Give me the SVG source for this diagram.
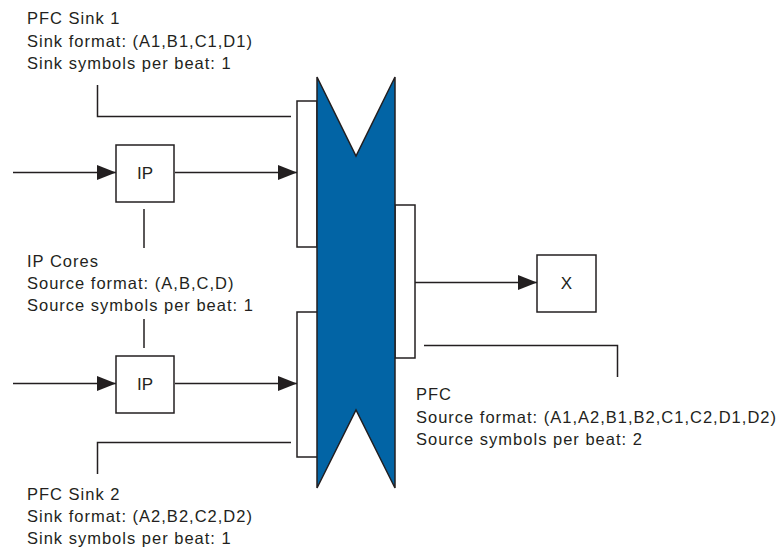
<svg xmlns="http://www.w3.org/2000/svg" width="783" height="550" viewBox="0 0 783 550">
  <style>
    .txt { font-family: "Liberation Sans", Arial, Helvetica, sans-serif; font-size: 16.5px; fill: #231f20; letter-spacing: 1px; }
    .lbl { font-family: "Liberation Sans", Arial, Helvetica, sans-serif; font-size: 17px; fill: #231f20; text-anchor: middle; }
    .box { fill: #ffffff; stroke: #231f20; stroke-width: 1.5; }
    .line { fill: none; stroke: #231f20; stroke-width: 1.5; }
    .pfc { fill: #0264a5; stroke: #231f20; stroke-width: 1.5; stroke-linejoin: miter; }
  </style>
  <defs>
    <marker id="arrow" markerUnits="userSpaceOnUse" markerWidth="20" markerHeight="16" refX="19" refY="7.5" orient="auto">
      <path d="M0,0 L19,7.5 L0,15 Z" fill="#231f20"/>
    </marker>
  </defs>
  <rect width="783" height="550" fill="#ffffff"/>

  <!-- PFC body with its two sink ports and source port -->
  <g id="pfc">
    <rect id="sink1-port" class="box" x="297" y="101" width="20" height="146"/>
    <rect id="sink2-port" class="box" x="297" y="312" width="21" height="145"/>
    <rect id="source-port" class="box" x="395" y="205" width="20" height="153"/>
    <polygon class="pfc" points="317,77 356,156 395,77 395,488 356,410 317,488"/>
  </g>

  <g id="ip1">
    <rect class="box" x="116" y="145" width="58" height="57"/>
    <text class="lbl" x="145" y="178.5">IP</text>
  </g>

  <g id="ip2">
    <rect class="box" x="116" y="356" width="58" height="57"/>
    <text class="lbl" x="145" y="389.5">IP</text>
  </g>

  <g id="x">
    <rect class="box" x="537" y="255" width="59" height="57"/>
    <text class="lbl" x="566.5" y="289">X</text>
  </g>

  <!-- connectors and callout leaders -->
  <g id="connectors">
    <line class="line" x1="13" y1="172.5" x2="116" y2="172.5" marker-end="url(#arrow)"/>
    <line class="line" x1="175" y1="172.5" x2="297" y2="172.5" marker-end="url(#arrow)"/>
    <line class="line" x1="13" y1="383.5" x2="116" y2="383.5" marker-end="url(#arrow)"/>
    <line class="line" x1="175" y1="383.5" x2="297" y2="383.5" marker-end="url(#arrow)"/>
    <line class="line" x1="415" y1="282.5" x2="537" y2="282.5" marker-end="url(#arrow)"/>

    <polyline class="line" points="97.5,85 97.5,116.5 291,116.5"/>
    <line class="line" x1="144" y1="209" x2="144" y2="248"/>
    <line class="line" x1="144" y1="319" x2="144" y2="348"/>
    <polyline class="line" points="291,442.5 97.5,442.5 97.5,474"/>
    <polyline class="line" points="424,345.5 617.5,345.5 617.5,377"/>
  </g>

  <g id="sink1-info">
    <text class="txt" x="27" y="24">PFC Sink 1</text>
    <text class="txt" x="27" y="46.5">Sink format: (A1,B1,C1,D1)</text>
    <text class="txt" x="27" y="68.5">Sink symbols per beat: 1</text>
  </g>

  <g id="ip-info">
    <text class="txt" x="27" y="267">IP Cores</text>
    <text class="txt" x="27" y="289">Source format: (A,B,C,D)</text>
    <text class="txt" x="27" y="311">Source symbols per beat: 1</text>
  </g>

  <g id="sink2-info">
    <text class="txt" x="27" y="499.5">PFC Sink 2</text>
    <text class="txt" x="27" y="521.5">Sink format: (A2,B2,C2,D2)</text>
    <text class="txt" x="27" y="543.5">Sink symbols per beat: 1</text>
  </g>

  <g id="pfc-info">
    <text class="txt" x="416" y="400">PFC</text>
    <text class="txt" x="416" y="422.5">Source format: (A1,A2,B1,B2,C1,C2,D1,D2)</text>
    <text class="txt" x="416" y="445">Source symbols per beat: 2</text>
  </g>
</svg>
